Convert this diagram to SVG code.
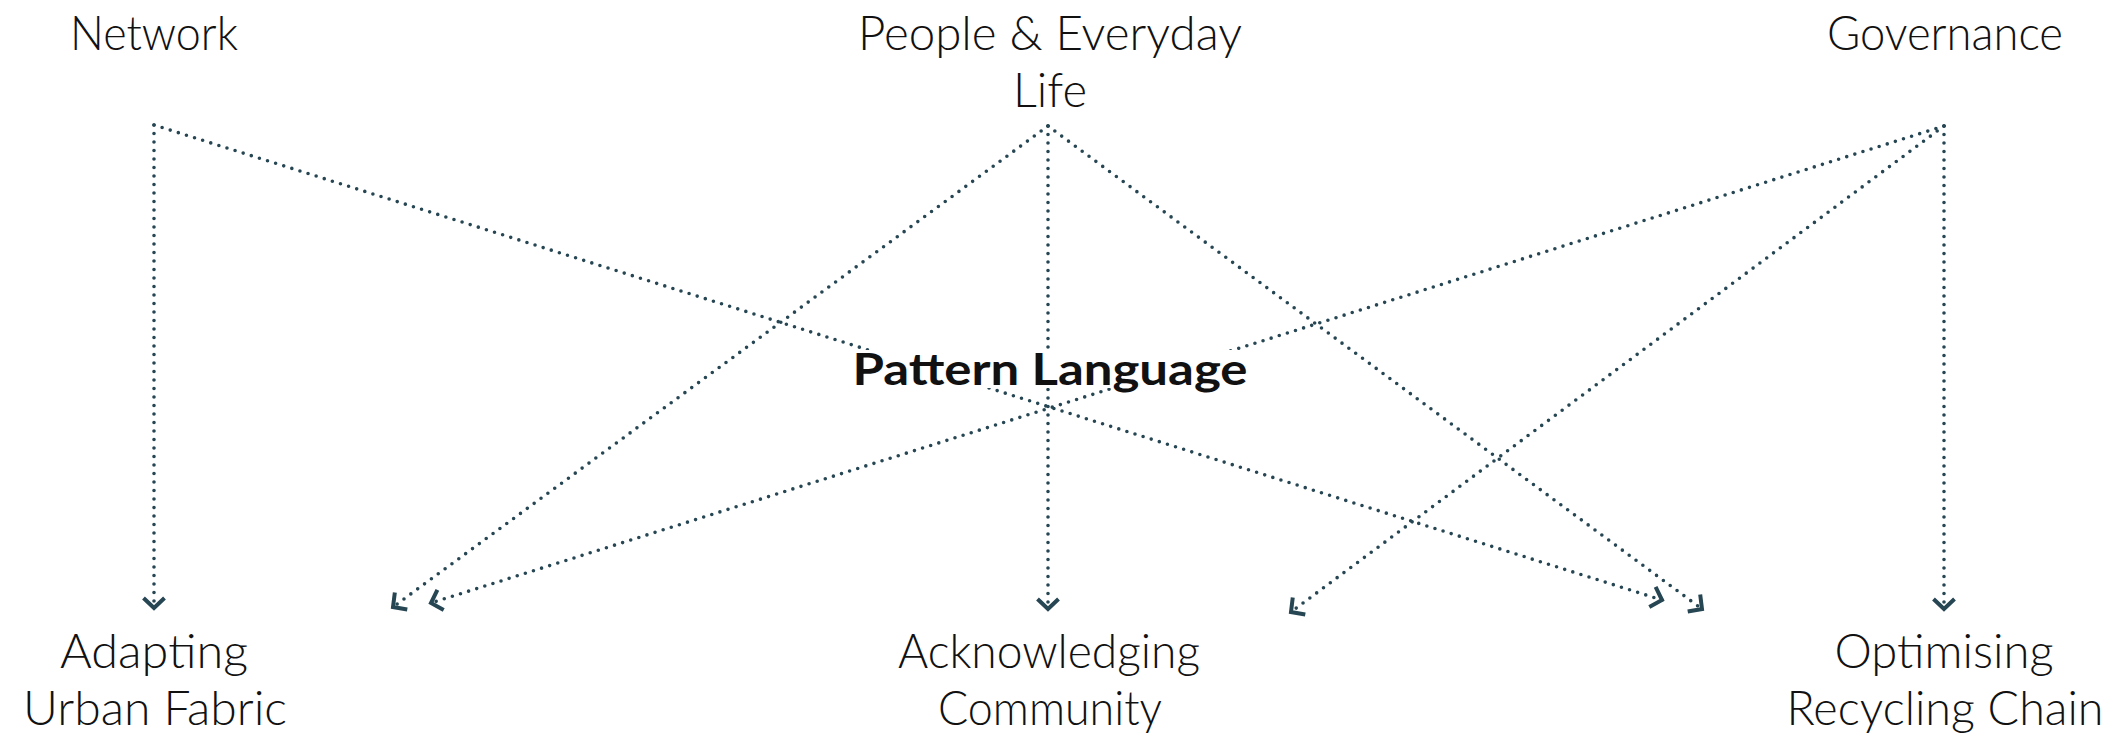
<svg xmlns="http://www.w3.org/2000/svg" width="2123" height="740" viewBox="0 0 2123 740">
<style>
  .lbl { font-family: "Lato", "Liberation Sans", sans-serif; font-weight: 300; font-size: 47px; fill: #111; text-anchor: middle; }
  .core { font-family: "Lato", "Liberation Sans", sans-serif; font-weight: 700; font-size: 44px; fill: #111; text-anchor: middle; }
  .con { fill: none; stroke: #264653; stroke-width: 3.6; stroke-linecap: round; stroke-dasharray: 0 8.5; marker-end: url(#chev); }
</style>
<defs>
  <marker id="chev" markerUnits="userSpaceOnUse" viewBox="-15 -15 30 30" markerWidth="30" markerHeight="30" refX="0" refY="0" orient="auto">
    <path d="M-10,-10.5 L0,0 L-10,10.5" fill="none" stroke="#264653" stroke-width="4"/>
  </marker>
</defs>
<rect width="2123" height="740" fill="#ffffff"/>
<g id="connectors">
  <path class="con" d="M154,125 L154,608"/>
  <path class="con" d="M154,125 L1662,600"/>
  <path class="con" d="M1048,126 L393,607"/>
  <path class="con" d="M1048,126 L1048,609"/>
  <path class="con" d="M1048,126 L1702,609"/>
  <path class="con" d="M1944,126 L1291,612"/>
  <path class="con" d="M1944,126 L1944,609"/>
  <path class="con" d="M1944,126 L431,603"/>
</g>
<g id="node-network">
  <text class="lbl" x="154" y="50" textLength="168" lengthAdjust="spacingAndGlyphs">Network</text>
</g>
<g id="node-people">
  <text class="lbl" x="1050" y="50" textLength="384" lengthAdjust="spacingAndGlyphs">People &amp; Everyday</text>
  <text class="lbl" x="1050" y="107" textLength="74" lengthAdjust="spacingAndGlyphs">Life</text>
</g>
<g id="node-governance">
  <text class="lbl" x="1945" y="50" textLength="236" lengthAdjust="spacingAndGlyphs">Governance</text>
</g>
<g id="node-pattern">
  <rect x="848" y="350" width="404" height="38" fill="#ffffff"/>
  <text class="core" x="1050" y="385" textLength="395" lengthAdjust="spacingAndGlyphs">Pattern Language</text>
</g>
<g id="node-adapting">
  <text class="lbl" x="154" y="668" textLength="188" lengthAdjust="spacingAndGlyphs">Adapting</text>
  <text class="lbl" x="155" y="725" textLength="264" lengthAdjust="spacingAndGlyphs">Urban Fabric</text>
</g>
<g id="node-acknowledging">
  <text class="lbl" x="1049" y="668" textLength="302" lengthAdjust="spacingAndGlyphs">Acknowledging</text>
  <text class="lbl" x="1050" y="725" textLength="224" lengthAdjust="spacingAndGlyphs">Community</text>
</g>
<g id="node-optimising">
  <text class="lbl" x="1944" y="668" textLength="219" lengthAdjust="spacingAndGlyphs">Optimising</text>
  <text class="lbl" x="1945" y="725" textLength="317" lengthAdjust="spacingAndGlyphs">Recycling Chain</text>
</g>
</svg>
